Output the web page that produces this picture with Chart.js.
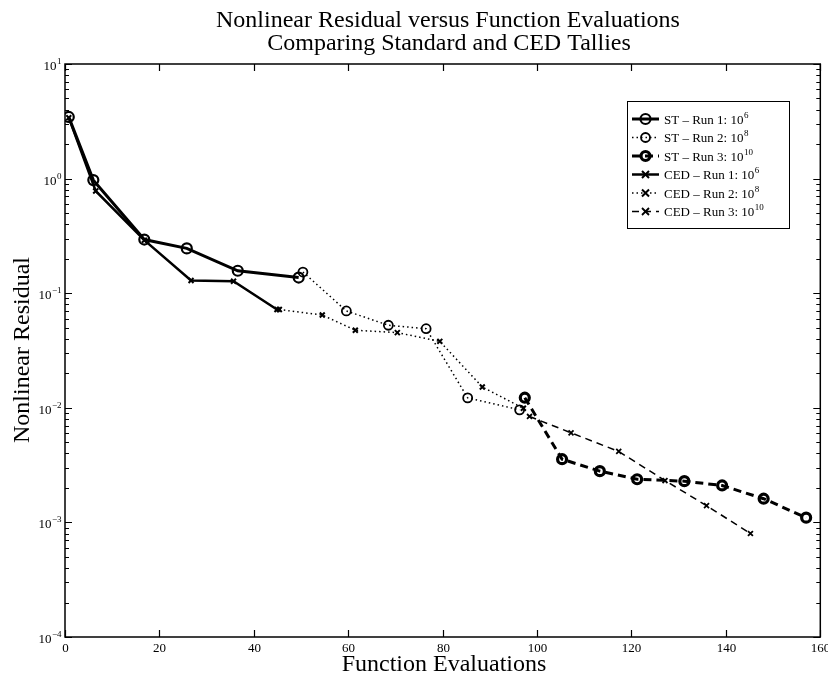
<!DOCTYPE html>
<html><head><meta charset="utf-8">
<script src="https://cdn.jsdelivr.net/npm/chart.js@4.4.1/dist/chart.umd.min.js"></script>
<style>html,body{margin:0;padding:0;background:#fff}#wrap{width:828px;height:679px}</style>
</head><body><div id="wrap"><canvas id="c" width="828" height="679"></canvas></div>
<script>
// ---- text ----
const titleLines = ["Nonlinear Residual versus Function Evaluations", "Comparing Standard and CED Tallies"];
const xAxisTitle = "Function Evaluations";
const yAxisTitle = "Nonlinear Residual";
const xTickValues = [0, 20, 40, 60, 80, 100, 120, 140, 160];
const yDecadeExps = [-4, -3, -2, -1, 0, 1];

// ---- series ----
const stRun1X = [0.8, 6, 16.8, 25.8, 36.6, 49.5];
const stRun1Y = [3.45, 0.97, 0.294, 0.246, 0.157, 0.137];
const stRun2X = [50.4, 59.6, 68.5, 76.5, 85.3, 96.3];
const stRun2Y = [0.153, 0.070, 0.0525, 0.049, 0.0122, 0.0096];
const stRun3X = [97.4, 105.3, 113.3, 121.2, 131.2, 139.2, 148, 157];
const stRun3Y = [0.01225, 0.00356, 0.0028, 0.00238, 0.00229, 0.0021, 0.00161, 0.0011];
const cedRun1X = [0.8, 6.5, 16.8, 26.7, 35.7, 44.9];
const cedRun1Y = [3.4, 0.78, 0.29, 0.129, 0.127, 0.072];
const cedRun2X = [45.4, 54.5, 61.5, 70.4, 79.4, 88.4, 97.1];
const cedRun2Y = [0.072, 0.0645, 0.0475, 0.0453, 0.038, 0.0152, 0.0099];
const cedRun3X = [98.4, 107.2, 117.3, 127.1, 135.9, 145.2];
const cedRun3Y = [0.0084, 0.00605, 0.00416, 0.00232, 0.0014, 0.0008];

const legendBase = ["ST \u2013 Run 1: 10", "ST \u2013 Run 2: 10", "ST \u2013 Run 3: 10",
                    "CED \u2013 Run 1: 10", "CED \u2013 Run 2: 10", "CED \u2013 Run 3: 10"];
const legendExp = ["6", "8", "10", "6", "8", "10"];

function pts(xs, ys) { return xs.map((x, i) => ({x: x, y: ys[i]})); }

const styles = [
  {w: 3, dash: [], marker: 'circle', r: 5, bw: 2.2},
  {w: 1.5, dash: [1.5, 3], marker: 'circle', r: 4.5, bw: 1.8},
  {w: 3, dash: [8, 5], marker: 'circle', r: 4.5, bw: 3.2},
  {w: 2.5, dash: [], marker: 'crossRot', r: 3.5, bw: 2},
  {w: 1.5, dash: [1.5, 3], marker: 'crossRot', r: 3.5, bw: 2},
  {w: 1.5, dash: [7, 5], marker: 'crossRot', r: 3.5, bw: 1.8}
];
const seriesData = [pts(stRun1X, stRun1Y), pts(stRun2X, stRun2Y), pts(stRun3X, stRun3Y),
                    pts(cedRun1X, cedRun1Y), pts(cedRun2X, cedRun2Y), pts(cedRun3X, cedRun3Y)];

const datasets = seriesData.map((d, i) => ({
  label: legendBase[i] + legendExp[i],
  data: d,
  showLine: true,
  borderColor: '#000',
  backgroundColor: 'rgba(0,0,0,0)',
  borderWidth: styles[i].w,
  borderDash: styles[i].dash,
  pointStyle: styles[i].marker,
  pointRadius: styles[i].r,
  pointBorderWidth: styles[i].bw,
  pointBorderColor: '#000',
  pointBackgroundColor: 'rgba(0,0,0,0)',
  tension: 0
}));

const SERIF = '"Liberation Serif", "DejaVu Serif", serif';

function drawPow(ctx, base, exp, x, y, size, align) {
  ctx.font = size + 'px ' + SERIF;
  const wb = ctx.measureText(base).width;
  ctx.font = Math.round(size * 0.72) + 'px ' + SERIF;
  const we = ctx.measureText(exp).width;
  let x0 = x;
  if (align === 'right') x0 = x - wb - we;
  else if (align === 'center') x0 = x - (wb + we) / 2;
  ctx.textAlign = 'left';
  ctx.textBaseline = 'alphabetic';
  ctx.font = size + 'px ' + SERIF;
  ctx.fillText(base, x0, y);
  ctx.font = Math.round(size * 0.72) + 'px ' + SERIF;
  ctx.fillText(exp, x0 + wb + 0.5, y - size * 0.45);
}

function drawMarker(ctx, st, x, y) {
  ctx.save();
  ctx.setLineDash([]);
  ctx.lineWidth = st.bw;
  ctx.strokeStyle = '#000';
  ctx.beginPath();
  if (st.marker === 'circle') {
    ctx.arc(x, y, st.r, 0, Math.PI * 2);
  } else {
    const r = st.r;
    ctx.moveTo(x - r, y - r); ctx.lineTo(x + r, y + r);
    ctx.moveTo(x - r, y + r); ctx.lineTo(x + r, y - r);
  }
  ctx.stroke();
  ctx.restore();
}

const decor = {
  id: 'decor',
  afterDraw(chart) {
    const ctx = chart.ctx;
    const xs = chart.scales.x, ys = chart.scales.y;
    const a = chart.chartArea;
    ctx.save();
    ctx.fillStyle = '#000';
    ctx.strokeStyle = '#000';
    ctx.lineWidth = 1.5;
    ctx.setLineDash([]);
    ctx.strokeRect(a.left, a.top, a.right - a.left, a.bottom - a.top);
    ctx.lineWidth = 1.2;
    xTickValues.forEach(v => {
      const px = Math.round(xs.getPixelForValue(v)) + 0.5;
      ctx.beginPath();
      ctx.moveTo(px, a.bottom); ctx.lineTo(px, a.bottom - 7);
      ctx.moveTo(px, a.top); ctx.lineTo(px, a.top + 7);
      ctx.stroke();
      ctx.font = '13px ' + SERIF;
      ctx.textAlign = 'center';
      ctx.textBaseline = 'alphabetic';
      ctx.fillText(String(v), px, a.bottom + 15);
    });
    yDecadeExps.forEach(e => {
      const py = Math.round(ys.getPixelForValue(Math.pow(10, e))) + 0.5;
      ctx.beginPath();
      ctx.moveTo(a.left, py); ctx.lineTo(a.left + 7, py);
      ctx.moveTo(a.right, py); ctx.lineTo(a.right - 7, py);
      ctx.stroke();
      const expStr = e < 0 ? '\u2212' + (-e) : String(e);
      drawPow(ctx, '10', expStr, a.left - 4, py + 5, 13, 'right');
      if (e < 1) {
        for (let m = 2; m <= 9; m++) {
          const my = Math.round(ys.getPixelForValue(m * Math.pow(10, e))) + 0.5;
          ctx.beginPath();
          ctx.moveTo(a.left, my); ctx.lineTo(a.left + 4, my);
          ctx.moveTo(a.right, my); ctx.lineTo(a.right - 4, my);
          ctx.stroke();
        }
      }
    });
    ctx.textAlign = 'center';
    ctx.textBaseline = 'alphabetic';
    ctx.font = '24px ' + SERIF;
    ctx.fillText(titleLines[0], 448, 27);
    ctx.fillText(titleLines[1], 449, 50);
    ctx.font = '24px ' + SERIF;
    ctx.fillText(xAxisTitle, 444, 671);
    ctx.save();
    ctx.translate(29, 350);
    ctx.rotate(-Math.PI / 2);
    ctx.fillText(yAxisTitle, 0, 0);
    ctx.restore();
    const lx0 = 627, lx1 = 789, ly0 = 101.5, rowH = 18.5;
    const ly1 = ly0 + 17.5 + rowH * 5 + 17;
    ctx.fillStyle = '#fff';
    ctx.fillRect(lx0, ly0, lx1 - lx0, ly1 - ly0);
    ctx.fillStyle = '#000';
    ctx.lineWidth = 1;
    ctx.strokeRect(lx0 + 0.5, ly0, lx1 - lx0, ly1 - ly0);
    for (let i = 0; i < 6; i++) {
      const ry = ly0 + 17.5 + rowH * i;
      const st = styles[i];
      ctx.save();
      ctx.lineWidth = st.w;
      ctx.setLineDash(st.dash);
      ctx.beginPath();
      ctx.moveTo(lx0 + 5, ry); ctx.lineTo(lx0 + 32, ry);
      ctx.stroke();
      ctx.restore();
      drawMarker(ctx, st, lx0 + 18.5, ry);
      drawPow(ctx, legendBase[i], legendExp[i], lx0 + 37, ry + 4.5, 13, 'left');
    }
    ctx.restore();
  }
};

new Chart(document.getElementById('c'), {
  type: 'scatter',
  data: {datasets: datasets},
  options: {
    responsive: false,
    animation: false,
    devicePixelRatio: 1,
    layout: {padding: {left: 65, right: 4, top: 64, bottom: 42}},
    scales: {
      x: {type: 'linear', min: 0, max: 160, display: false},
      y: {type: 'logarithmic', min: 1e-4, max: 10, display: false}
    },
    plugins: {legend: {display: false}, tooltip: {enabled: false}, title: {display: false}}
  },
  plugins: [decor]
});
</script>
</body></html>
